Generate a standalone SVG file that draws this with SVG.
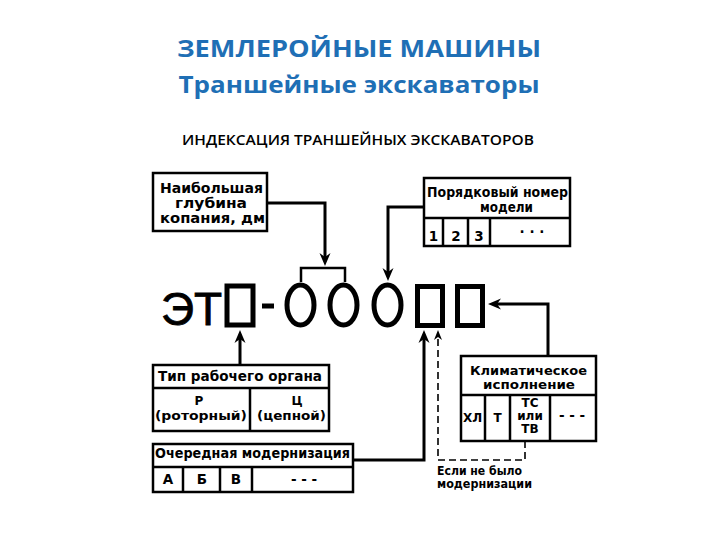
<svg xmlns="http://www.w3.org/2000/svg" width="720" height="540" viewBox="0 0 720 540">
<style>
.title{font-family:"Open Sans","Liberation Sans",sans-serif;font-weight:bold;fill:#1F6FB5;text-anchor:middle}
.sub{font-family:"Open Sans","Liberation Sans",sans-serif;font-size:15px;font-weight:600;fill:#000;text-anchor:middle}
.box{fill:#fff;stroke:#000;stroke-width:2.5}
.div{stroke:#000;stroke-width:2.5;fill:none}
.t{font-family:"DejaVu Sans","Liberation Sans",sans-serif;font-weight:bold;font-size:13.5px;fill:#000}
.s{font-size:12px}
.tm{text-anchor:middle}
.big{font-family:"Liberation Sans",Arial,sans-serif;font-size:46px;fill:#000;stroke:#000;stroke-width:0.8}
.sym{fill:#fff;stroke:#000;stroke-width:5}
.con{fill:none;stroke:#000;stroke-width:3}
.dash{fill:none;stroke:#000;stroke-width:1.6;stroke-dasharray:7 4}
</style>
<defs>
<marker id="ah" viewBox="-14 -6 15 12" refX="-6" refY="0" markerWidth="15" markerHeight="12" markerUnits="userSpaceOnUse" orient="auto">
<path d="M0,0 L-13,-5.5 L-9,0 L-13,5.5 Z" fill="#000"/>
</marker>
<marker id="ahs" viewBox="-11 -5 12 10" refX="-4" refY="0" markerWidth="12" markerHeight="10" markerUnits="userSpaceOnUse" orient="auto">
<path d="M0,0 L-10,-4 L-7,0 L-10,4 Z" fill="#000"/>
</marker>
</defs>
<rect width="720" height="540" fill="#fff"/>

<g id="titles">
<text class="title" x="359" y="57" font-size="24" textLength="364" lengthAdjust="spacingAndGlyphs">ЗЕМЛЕРОЙНЫЕ МАШИНЫ</text>
<text class="title" x="359" y="93" font-size="24" textLength="361" lengthAdjust="spacingAndGlyphs">Траншейные экскаваторы</text>
<text class="sub" x="358" y="145" textLength="352" lengthAdjust="spacingAndGlyphs">ИНДЕКСАЦИЯ ТРАНШЕЙНЫХ ЭКСКАВАТОРОВ</text>
</g>

<g id="formula">
<text class="big" x="161" y="325">ЭТ</text>
<rect class="sym" x="227" y="286" width="26" height="39"/>
<line x1="262" y1="306" x2="274" y2="306" stroke="#000" stroke-width="5"/>
<ellipse class="sym" cx="300.5" cy="305" rx="13.5" ry="20"/>
<ellipse class="sym" cx="343.5" cy="305" rx="13.5" ry="20"/>
<ellipse class="sym" cx="387.5" cy="305" rx="13.5" ry="20"/>
<rect class="sym" x="417.5" y="286.5" width="25" height="39"/>
<rect class="sym" x="457.5" y="286.5" width="25" height="39"/>
</g>

<g id="depth">
<rect class="box" x="153" y="173" width="114" height="58"/>
<text class="t" x="160" y="193" textLength="103" lengthAdjust="spacingAndGlyphs">Наибольшая</text>
<text class="t" x="175" y="208" textLength="72" lengthAdjust="spacingAndGlyphs">глубина</text>
<text class="t" x="160" y="223" textLength="105" lengthAdjust="spacingAndGlyphs">копания, дм</text>
</g>

<g id="serial">
<rect class="box" x="424" y="178" width="146" height="68"/>
<line class="div" x1="424" y1="218" x2="570" y2="218"/>
<line class="div" x1="443" y1="218" x2="443" y2="246"/>
<line class="div" x1="468" y1="218" x2="468" y2="246"/>
<line class="div" x1="490" y1="218" x2="490" y2="246"/>
<text class="t" x="427" y="197" font-weight="normal" textLength="141" lengthAdjust="spacingAndGlyphs">Порядковый номер</text>
<text class="t" x="480" y="212" font-weight="normal" textLength="53" lengthAdjust="spacingAndGlyphs">модели</text>
<text class="t tm" x="433.5" y="241" font-size="19" font-weight="normal">1</text>
<text class="t tm" x="456" y="241" font-size="19" font-weight="normal">2</text>
<text class="t tm" x="479" y="241" font-size="19" font-weight="normal">3</text>
<text class="t tm" x="532" y="237" font-size="16">· · ·</text>
</g>

<g id="organ">
<rect class="box" x="153" y="365" width="176" height="66"/>
<line class="div" x1="153" y1="388" x2="329" y2="388"/>
<line class="div" x1="250" y1="388" x2="250" y2="431"/>
<text class="t" x="158" y="381" textLength="164" lengthAdjust="spacingAndGlyphs">Тип рабочего органа</text>
<text class="t tm s" x="199" y="405">Р</text>
<text class="t s" x="155" y="420" textLength="92" lengthAdjust="spacingAndGlyphs">(роторный)</text>
<text class="t tm s" x="297" y="405">Ц</text>
<text class="t s" x="257" y="420" textLength="69" lengthAdjust="spacingAndGlyphs">(цепной)</text>
</g>

<g id="modern">
<rect class="box" x="153" y="444" width="200" height="48"/>
<line class="div" x1="153" y1="467" x2="353" y2="467"/>
<line class="div" x1="183" y1="467" x2="183" y2="492"/>
<line class="div" x1="220" y1="467" x2="220" y2="492"/>
<line class="div" x1="252" y1="467" x2="252" y2="492"/>
<text class="t" x="155" y="458" textLength="195" lengthAdjust="spacingAndGlyphs">Очередная модернизация</text>
<text class="t tm" x="168" y="484">А</text>
<text class="t tm" x="202" y="484">Б</text>
<text class="t tm" x="236" y="484">В</text>
<text class="t tm" x="304" y="484">- - -</text>
</g>

<g id="climate">
<rect class="box" x="461" y="356" width="135" height="85"/>
<line class="div" x1="461" y1="395" x2="596" y2="395"/>
<line class="div" x1="485" y1="395" x2="485" y2="441"/>
<line class="div" x1="510" y1="395" x2="510" y2="441"/>
<line class="div" x1="550" y1="395" x2="550" y2="441"/>
<text class="t s" x="470" y="375" textLength="117" lengthAdjust="spacingAndGlyphs">Климатическое</text>
<text class="t s" x="483" y="389" textLength="92" lengthAdjust="spacingAndGlyphs">исполнение</text>
<text class="t tm s" x="472.5" y="422">ХЛ</text>
<text class="t tm s" x="497.5" y="422">Т</text>
<text class="t tm s" x="530" y="407">ТС</text>
<text class="t tm s" x="530" y="420">или</text>
<text class="t tm s" x="530" y="433">ТВ</text>
<text class="t tm" x="572" y="420">- - -</text>
</g>

<g id="note">
<text class="t s" x="437" y="475" font-weight="normal" textLength="85" lengthAdjust="spacingAndGlyphs">Если не было</text>
<text class="t s" x="437" y="488" textLength="95" lengthAdjust="spacingAndGlyphs">модернизации</text>
</g>

<g id="connectors">
<path class="con" d="M267,203 H325 V260" marker-end="url(#ah)"/>
<path class="div" d="M301,282 V268 H345 V282" stroke-width="2"/>
<path class="con" d="M424,207 H388 V275" marker-end="url(#ah)"/>
<path class="con" d="M240,365 V336" marker-end="url(#ah)"/>
<path class="con" d="M353,460 H424 V336" marker-end="url(#ah)"/>
<path class="dash" d="M525,441 V460 H438 V334" marker-end="url(#ahs)"/>
<path class="con" d="M548,356 V304 H494" marker-end="url(#ah)"/>
</g>
</svg>
